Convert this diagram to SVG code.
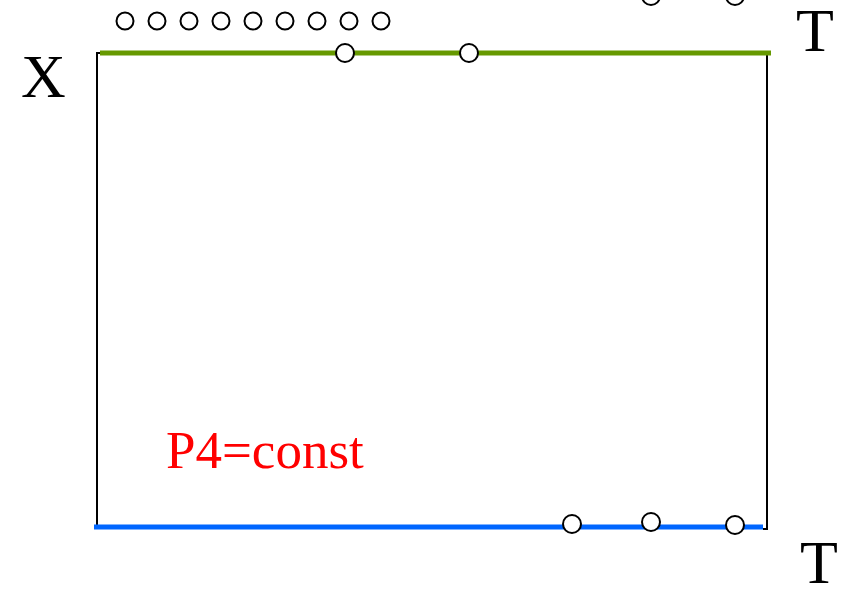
<svg xmlns="http://www.w3.org/2000/svg" width="856" height="591" viewBox="0 0 856 591">
<style>
.c{fill:#fff;stroke:#000;stroke-width:2}
.t{font-family:"Liberation Serif",serif;font-size:62px;fill:#000}
</style>
<rect width="856" height="591" fill="#fff"/>
<g id="connectors">
<path d="M100 53 H97 V528" fill="none" stroke="#000" stroke-width="2"/>
<path d="M767 53 V529 H763" fill="none" stroke="#000" stroke-width="2"/>
<line x1="100" y1="53" x2="771" y2="53" stroke="#669900" stroke-width="5"/>
<line x1="94" y1="527" x2="763" y2="527" stroke="#0066ff" stroke-width="5"/>
</g>
<g id="top-particles">
<circle class="c" cx="125" cy="21" r="8.5"/>
<circle class="c" cx="157" cy="21" r="8.5"/>
<circle class="c" cx="189" cy="21" r="8.5"/>
<circle class="c" cx="221" cy="21" r="8.5"/>
<circle class="c" cx="253" cy="21" r="8.5"/>
<circle class="c" cx="285" cy="21" r="8.5"/>
<circle class="c" cx="317" cy="21" r="8.5"/>
<circle class="c" cx="349" cy="21" r="8.5"/>
<circle class="c" cx="381" cy="21" r="8.5"/>
<circle class="c" cx="651" cy="-4" r="9"/>
<circle class="c" cx="735" cy="-4" r="9"/>
</g>
<g id="green-particles">
<circle class="c" cx="345" cy="53" r="9"/>
<circle class="c" cx="469" cy="53" r="9"/>
</g>
<g id="blue-particles">
<circle class="c" cx="572" cy="524" r="9"/>
<circle class="c" cx="651" cy="522" r="9"/>
<circle class="c" cx="735" cy="525" r="9"/>
</g>
<g id="labels">
<text class="t" x="21" y="97">X</text>
<text class="t" x="796" y="51">T</text>
<text class="t" x="800" y="583">T</text>
<text x="166" y="468" font-family="Liberation Serif,serif" font-size="53" fill="#ff0000">P4=const</text>
</g>
</svg>
